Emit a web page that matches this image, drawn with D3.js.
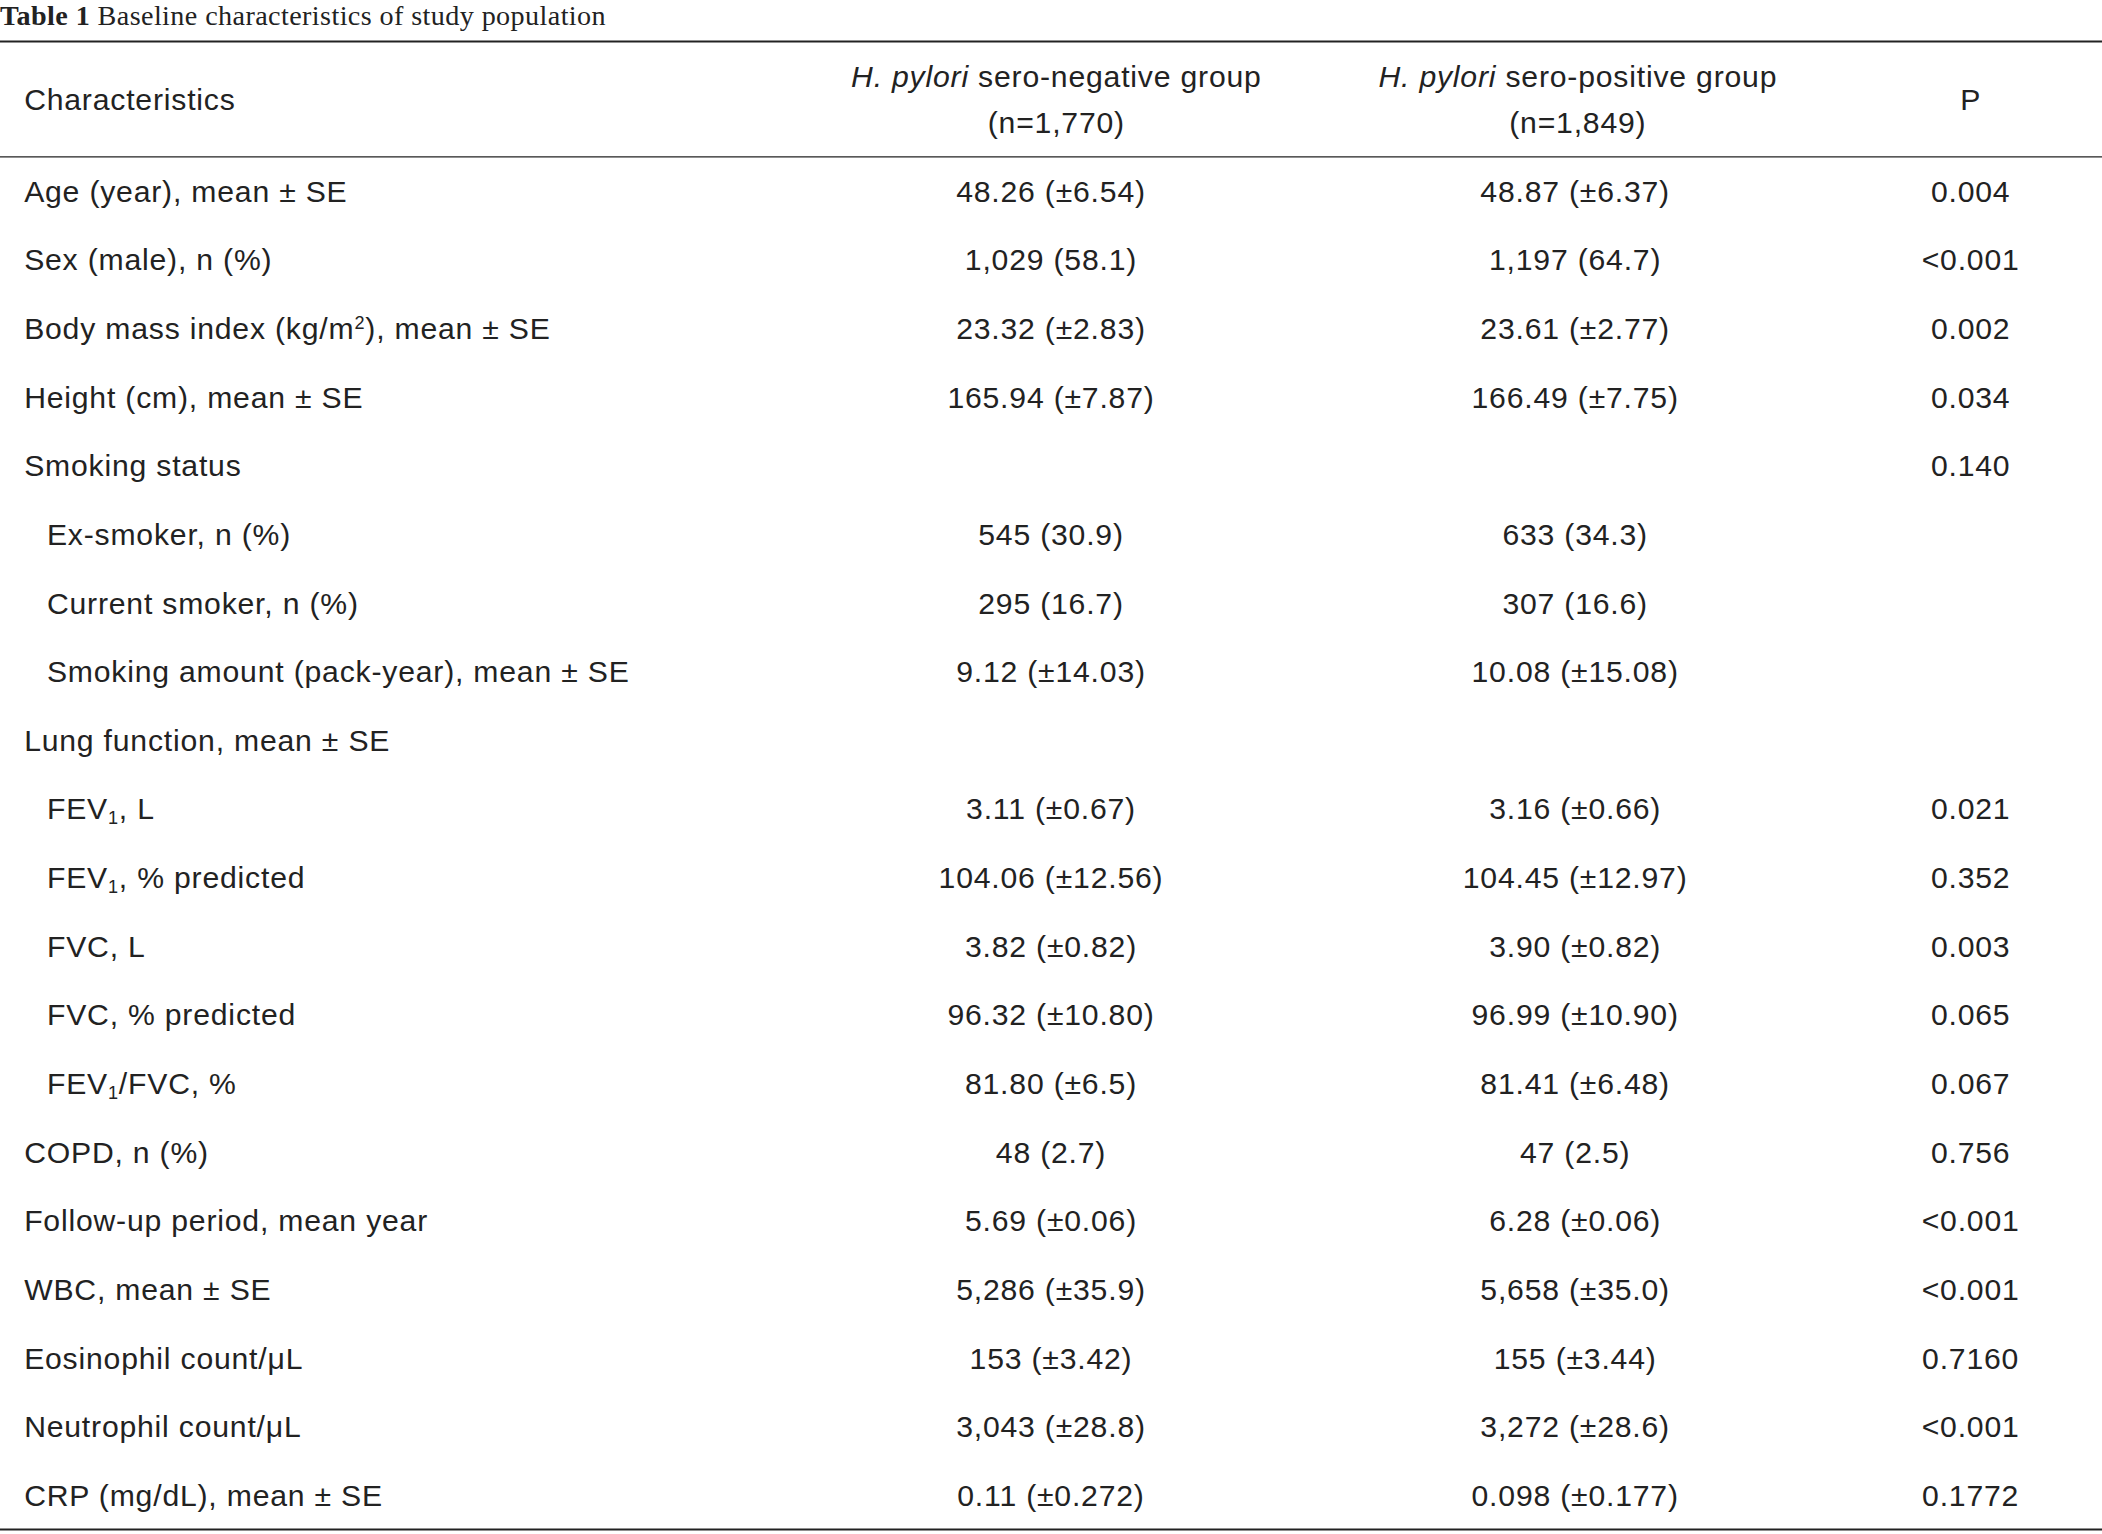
<!DOCTYPE html>
<html><head><meta charset="utf-8">
<script src="https://cdn.jsdelivr.net/npm/d3@7"></script>
<style>body{margin:0;background:#fff}</style>
</head><body><div id="chart"></div>
<script>
const labels = ["Age (year), mean ± SE","Sex (male), n (%)","Body mass index (kg/m^2), mean ± SE","Height (cm), mean ± SE","Smoking status",">Ex-smoker, n (%)",">Current smoker, n (%)",">Smoking amount (pack-year), mean ± SE","Lung function, mean ± SE",">FEV_1, L",">FEV_1, % predicted",">FVC, L",">FVC, % predicted",">FEV_1/FVC, %","COPD, n (%)","Follow-up period, mean year","WBC, mean ± SE","Eosinophil count/μL","Neutrophil count/μL","CRP (mg/dL), mean ± SE"];
const negGroup = ["48.26 (±6.54)","1,029 (58.1)","23.32 (±2.83)","165.94 (±7.87)","","545 (30.9)","295 (16.7)","9.12 (±14.03)","","3.11 (±0.67)","104.06 (±12.56)","3.82 (±0.82)","96.32 (±10.80)","81.80 (±6.5)","48 (2.7)","5.69 (±0.06)","5,286 (±35.9)","153 (±3.42)","3,043 (±28.8)","0.11 (±0.272)"];
const posGroup = ["48.87 (±6.37)","1,197 (64.7)","23.61 (±2.77)","166.49 (±7.75)","","633 (34.3)","307 (16.6)","10.08 (±15.08)","","3.16 (±0.66)","104.45 (±12.97)","3.90 (±0.82)","96.99 (±10.90)","81.41 (±6.48)","47 (2.5)","6.28 (±0.06)","5,658 (±35.0)","155 (±3.44)","3,272 (±28.6)","0.098 (±0.177)"];
const pValues = ["0.004","<0.001","0.002","0.034","0.140","","","","","0.021","0.352","0.003","0.065","0.067","0.756","<0.001","<0.001","0.7160","<0.001","0.1772"];

const s = 2102 / 1568;
const W = 2102, H = 1534;
const svg = d3.select('#chart').append('svg').attr('width', W).attr('height', H)
  .style('font-family', '"Liberation Sans", Arial, sans-serif');

const fs = 22.5 * s;
const ls = (0.6 * s) + 'px';
const colX = {label: 18 * s, neg: 784 * s, pos: 1175 * s, p: 1470 * s};

const y = d3.scaleBand()
  .domain(d3.range(labels.length))
  .range([117 * s, 1141 * s]);

// title
const t = svg.append('text').attr('x', 0).attr('y', 19 * s)
  .style('font-family', '"Liberation Serif", "Times New Roman", serif')
  .style('font-size', (21 * s) + 'px').style('letter-spacing', (0.3 * s) + 'px').attr('fill', '#222');
t.append('tspan').attr('font-weight', 'bold').text('Table 1 ');
t.append('tspan').text('Baseline characteristics of study population');

// rules
[[31, 1.5], [117, 1], [1141, 1.5]].forEach(([yy, w]) => {
  svg.append('line').attr('x1', 0).attr('x2', W).attr('y1', yy * s).attr('y2', yy * s)
    .attr('stroke', '#222').attr('stroke-width', w * s);
});

// header
const hdr = svg.append('g').style('font-size', fs + 'px').style('letter-spacing', ls).attr('fill', '#222');
hdr.append('text').attr('x', colX.label).attr('y', 74 * s).attr('dy', '0.35em').text('Characteristics');
[[colX.neg + 4 * s, 'sero-negative group', '(n=1,770)'], [colX.pos + 2 * s, 'sero-positive group', '(n=1,849)']].forEach(([x, a, b]) => {
  const tx = hdr.append('text').attr('x', x).attr('y', 57 * s).attr('dy', '0.35em').attr('text-anchor', 'middle');
  tx.append('tspan').attr('font-style', 'italic').text('H. pylori');
  tx.append('tspan').text(' ' + a);
  hdr.append('text').attr('x', x).attr('y', 91 * s).attr('dy', '0.35em').attr('text-anchor', 'middle').text(b);
});
hdr.append('text').attr('x', colX.p).attr('y', 74 * s).attr('dy', '0.35em').attr('text-anchor', 'middle').text('P');

// rich label with sub/superscripts
function richText(sel, str) {
  str.split(/(_\d|\^\d)/).forEach(part => {
    if (!part) return;
    if (part[0] === '_') {
      sel.append('tspan').attr('baseline-shift', '-25%').style('font-size', (fs * 0.6) + 'px').text(part.slice(1));
    } else if (part[0] === '^') {
      sel.append('tspan').attr('baseline-shift', '55%').style('font-size', (fs * 0.6) + 'px').text(part.slice(1));
    } else {
      sel.append('tspan').text(part);
    }
  });
}

const rows = svg.append('g').style('font-size', fs + 'px').style('letter-spacing', ls).attr('fill', '#222')
  .selectAll('g').data(labels).join('g')
  .attr('transform', (d, i) => `translate(0,${y(i) + y.bandwidth() / 2})`);

rows.append('text')
  .attr('x', d => d[0] === '>' ? 35 * s : colX.label)
  .attr('dy', '0.35em')
  .each(function(d) { richText(d3.select(this), d.replace(/^>/, '')); });

rows.append('text').attr('x', colX.neg).attr('dy', '0.35em').attr('text-anchor', 'middle')
  .text((d, i) => negGroup[i]);
rows.append('text').attr('x', colX.pos).attr('dy', '0.35em').attr('text-anchor', 'middle')
  .text((d, i) => posGroup[i]);
rows.append('text').attr('x', colX.p).attr('dy', '0.35em').attr('text-anchor', 'middle')
  .text((d, i) => pValues[i]);
</script></body></html>
